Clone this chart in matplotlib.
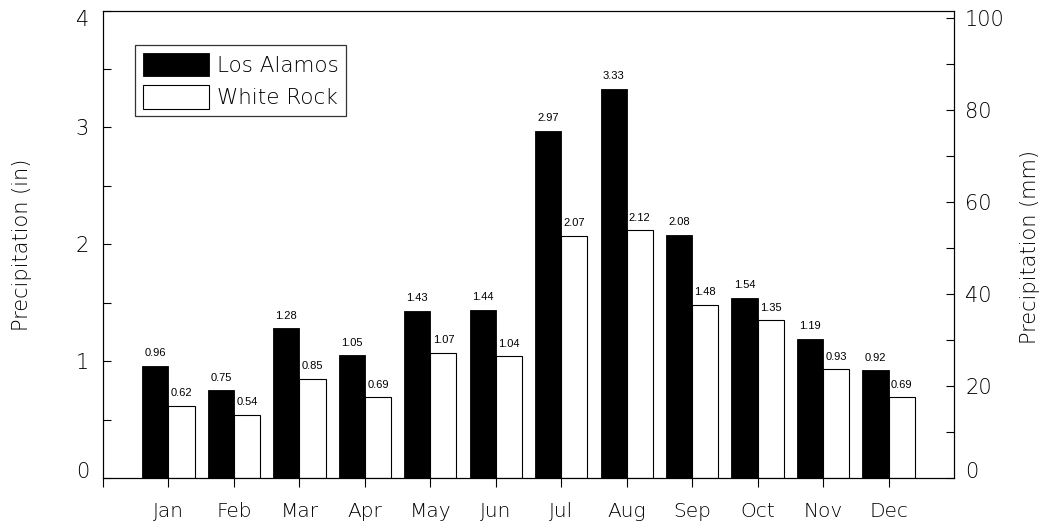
import matplotlib
matplotlib.use("Agg")
import matplotlib.pyplot as plt
from matplotlib.ticker import FixedLocator, MultipleLocator
import numpy as np

months = ["Jan", "Feb", "Mar", "Apr", "May", "Jun",
          "Jul", "Aug", "Sep", "Oct", "Nov", "Dec"]
los_alamos = [0.96, 0.75, 1.28, 1.05, 1.43, 1.44, 2.97, 3.33, 2.08, 1.54, 1.19, 0.92]
white_rock = [0.62, 0.54, 0.85, 0.69, 1.07, 1.04, 2.07, 2.12, 1.48, 1.35, 0.93, 0.69]
series_names = ["Los Alamos", "White Rock"]
MM_PER_IN = 25.4

plt.rcParams["font.family"] = "DejaVu Sans"
plt.rcParams["font.weight"] = "light"

W, H = 1047, 532
fig = plt.figure(figsize=(W / 100, H / 100), dpi=100)
ax = fig.add_axes([103 / W, 1 - 478 / H, 851 / W, 467.5 / H])

x = np.arange(1, len(months) + 1)
bw = 0.4
ax.bar(x - bw / 2, los_alamos, width=bw, color="black", edgecolor="black",
       linewidth=0.6, label=series_names[0])
ax.bar(x + bw / 2, white_rock, width=bw, color="white", edgecolor="black",
       linewidth=0.8, label=series_names[1])

for xs, vals in ((x - bw / 2, los_alamos), (x + bw / 2, white_rock)):
    for xi, v in zip(xs, vals):
        ax.annotate(f"{v:.2f}", (xi, v), xytext=(0, 5.5), textcoords="offset points",
                    ha="center", va="bottom", fontsize=8,
                    family="Liberation Sans", weight="normal")

ax.set_xlim(0, 13)
ax.set_ylim(0, 4)

# x axis: ticks at each month plus the left edge
ax.xaxis.set_major_locator(FixedLocator(x))
ax.xaxis.set_minor_locator(FixedLocator([0]))
ax.set_xticklabels(months, fontsize=14.5)
ax.tick_params(axis="x", which="both", direction="out", length=6.5, width=0.8,
               pad=11, top=False)

# left axis in inches
ax.yaxis.set_major_locator(FixedLocator([0, 1, 2, 3, 4]))
ax.yaxis.set_minor_locator(MultipleLocator(0.5))
ax.tick_params(axis="y", which="both", direction="in", length=6, width=0.8,
               labelsize=15, pad=10, right=False)
for t in ax.get_yticklabels():
    if t.get_text() == "4":
        t.set_va("top")
    elif t.get_text() == "0":
        t.set_va("baseline")

# right axis in millimetres
ax2 = ax.twinx()
ax2.set_ylim(0, 4 * MM_PER_IN)
ax2.yaxis.set_major_locator(FixedLocator([0, 20, 40, 60, 80, 100]))
ax2.yaxis.set_minor_locator(MultipleLocator(10))
ax2.tick_params(axis="y", which="both", direction="in", length=6, width=0.8,
                labelsize=15, pad=8)
for t in ax2.get_yticklabels():
    if t.get_text() == "0":
        t.set_va("baseline")

for a in (ax, ax2):
    for s in a.spines.values():
        s.set_linewidth(0.8)

fig.text(22 / W, 1 - 245 / H, "Precipitation (in)", rotation=90,
         ha="center", va="center", fontsize=15)
fig.text(1030 / W, 1 - 247 / H, "Precipitation (mm)", rotation=90,
         ha="center", va="center", fontsize=15)

leg = ax.legend(loc="upper left", bbox_to_anchor=(0.0376, 0.926), borderaxespad=0,
                fancybox=False, frameon=True, fontsize=15.5,
                handlelength=3.1, handleheight=1.3, handletextpad=0.35,
                labelspacing=0.42, borderpad=0.35)
leg.get_frame().set_edgecolor("black")
leg.get_frame().set_linewidth(0.9)

fig.savefig("out.png", dpi=100)
